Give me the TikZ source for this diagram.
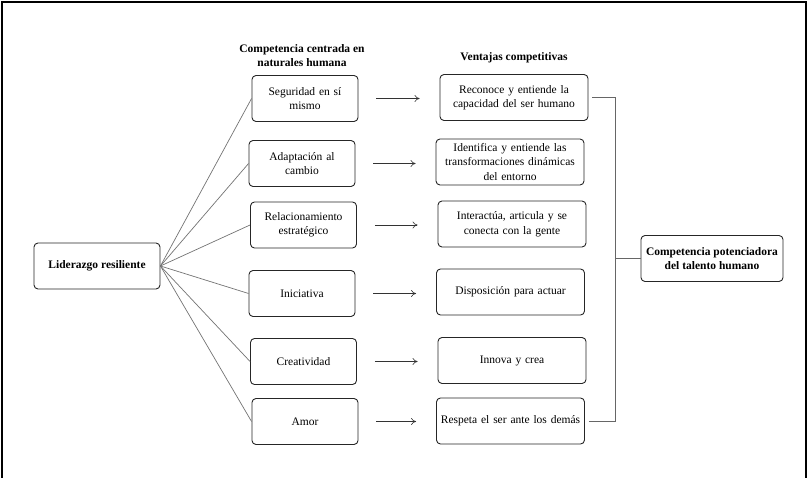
\documentclass[tikz,border=0pt]{standalone}
\usepackage{fontspec}
\setmainfont{Liberation Serif}
\usetikzlibrary{arrows.meta}
\begin{document}
\begin{tikzpicture}[x=1pt,y=-1pt,
  box/.style={draw=black!85,line width=0.9pt,rounded corners=4pt,align=center,
    font=\fontsize{11.5}{14.5}\selectfont,inner sep=2pt},
  lbox/.style={box,minimum width=106pt,minimum height=46pt,text width=100pt},
  rbox/.style={box,minimum width=146pt,minimum height=46pt,text width=144pt},
  bbox/.style={box,font=\bfseries\fontsize{11.5}{14}\selectfont},
  title/.style={align=center,font=\bfseries\fontsize{11.5}{14}\selectfont},
  fan/.style={draw=black!55,line width=0.7pt},
  arr/.style={draw=black!80,line width=0.6pt,-{To[length=5pt,width=7pt]},shorten <=18pt,shorten >=20pt},
  brk/.style={draw=black!60,line width=0.7pt}]
\useasboundingbox (0,0) rectangle (808,478);
\draw[line width=2pt] (2,478) -- (2,2) -- (806,2) -- (806,478);

\node[title] (t1) at (302,56) {Competencia centrada en\\naturales humana};
\node[title] (t2) at (514,58) {Ventajas competitivas};

\node[bbox,minimum width=126pt,minimum height=46pt] (lid) at (97,266) {Liderazgo resiliente};

\node[lbox] (s1) at (305,98.5) {Seguridad en sí\\mismo};
\node[lbox] (s2) at (302,163.5) {Adaptación al\\cambio};
\node[lbox] (s3) at (303.5,225) {Relacionamiento\\estratégico};
\node[lbox] (s4) at (302,293.5) {Iniciativa};
\node[lbox] (s5) at (303.5,361.5) {Creatividad};
\node[lbox] (s6) at (305,421.5) {Amor};

\node[rbox] (v1) at (514,97.5) {Reconoce y entiende la\\capacidad del ser humano};
\node[rbox] (v2) at (510,162) {Identifica y entiende las\\transformaciones dinámicas\\del entorno};
\node[rbox] (v3) at (512,224) {Interactúa, articula y se\\conecta con la gente};
\node[rbox] (v4) at (510.5,292) {Disposición para actuar};
\node[rbox] (v5) at (512,360.5) {Innova y crea};
\node[rbox] (v6) at (510.5,421) {Respeta el ser ante los demás};

\node[bbox,minimum width=142pt,minimum height=46pt,align=center] (cp) at (712,258.5) {Competencia potenciadora\\del talento humano};

\foreach \i in {1,...,6} {
  \draw[fan] (lid.east) -- (s\i.west);
  \draw[arr] (s\i.east) -- (v\i.west |- s\i.east);
}

\coordinate (mid) at (615,258.5);
\draw[brk,shorten <=4pt] (v1.east) -| (mid);
\draw[brk,shorten <=4pt] (v6.east) -| (mid);
\draw[brk] (mid) -- (cp.west);
\end{tikzpicture}
\end{document}
